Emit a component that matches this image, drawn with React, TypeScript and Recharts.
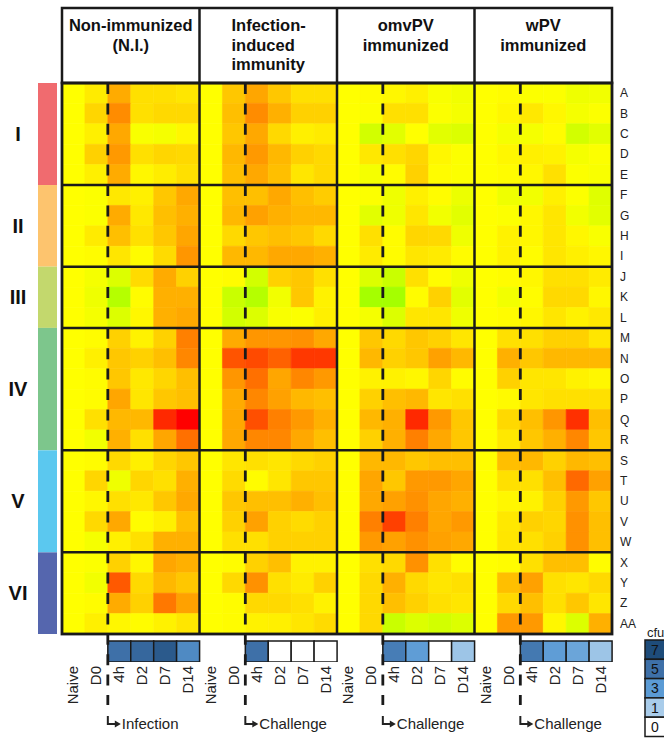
import React from "react";
import { BarChart, Bar, Cell, XAxis, YAxis } from "recharts";

// ---- data ----
const timepoints = ["Naive", "D0", "4h", "D2", "D7", "D14"];
const rowLabels = [
  "A", "B", "C", "D", "E", "F", "G", "H", "I", "J", "K", "L", "M", "N",
  "O", "P", "Q", "R", "S", "T", "U", "V", "W", "X", "Y", "Z", "AA",
];
const clusterNames = ["I", "II", "III", "IV", "V", "VI"];
const clusterSizes = [5, 4, 3, 6, 5, 4];
const clusterColors = ["#F06B6F", "#FDC46E", "#C3D86D", "#7DC68C", "#5BC8EF", "#5566AE"];

const panelTitles = [
  ["Non-immunized", "(N.I.)"],
  ["Infection-", "induced", "immunity"],
  ["omvPV", "immunized"],
  ["wPV", "immunized"],
];
const triggerLabels = ["Infection", "Challenge", "Challenge", "Challenge"];

// expression score per row (A..AA) x timepoint (Naive..D14)
const nonImmunized = [
  [0, 0.8, 3.3, 1.2, 1.2, 1.0],
  [0, 1.6, 4.5, 1.2, 1.5, 1.5],
  [0, 0.6, 3.4, -0.2, -0.3, 0.3],
  [0, 1.8, 4.0, 1.2, 1.6, 1.5],
  [0, 0.6, 3.3, 0.3, 0.7, 1.2],
  [0, -0.1, 0.9, 0.6, 2.2, 3.4],
  [0, -0.1, 3.3, 0.9, 2.5, 3.1],
  [0, 0.8, 2.5, 1.2, 2.2, 3.5],
  [0, 0.1, 1.0, 0.1, 1.4, 4.1],
  [0, -0.3, -1.1, 1.4, 3.3, 1.8],
  [0, -0.5, -2.3, 0.1, 3.1, 3.1],
  [0, -0.3, -1.1, 0.3, 3.1, 3.4],
  [0, 0.1, 1.8, 0.5, 1.8, 5.0],
  [0, 0.6, 2.2, 1.8, 2.5, 4.7],
  [0, 0.1, 2.2, 0.9, 1.6, 2.5],
  [0, 0.1, 3.5, 1.0, 2.2, 2.5],
  [0, 1.2, 2.8, 2.8, 8.4, 10],
  [0, -0.4, 3.1, 1.2, 3.5, 5.6],
  [0, 0.1, 1.5, 0.6, 1.6, 2.2],
  [0, 1.6, -0.5, 1.6, 1.2, 3.1],
  [0, 0.3, 1.2, 0.9, 2.2, 3.4],
  [0, 1.5, 3.4, 0.1, 0.6, 2.5],
  [0, -0.3, 0.6, 1.2, 3.1, 3.1],
  [0, -0.1, 1.8, 0.3, 3.5, 3.1],
  [0, -0.4, 6.5, 1.5, 2.8, 2.2],
  [0, 0.1, 3.3, 1.8, 5.3, 3.7],
  [0, 0.6, 0.3, 0.1, 0.5, 1.0],
];
const infectionInduced = [
  [0, 2.2, 3.5, 2.2, 1.2, 1.2],
  [0, 2.5, 4.5, 3.1, 1.8, 1.8],
  [0, 2.2, 3.4, 1.5, 0.6, 0.8],
  [0, 2.8, 4.0, 2.8, 1.8, 1.5],
  [0, 2.5, 3.4, 2.5, 1.0, 1.5],
  [0, 2.5, 2.5, 3.4, 2.5, 2.0],
  [0, 2.8, 3.7, 3.1, 2.8, 2.8],
  [0, 1.5, 2.2, 2.5, 2.2, 1.5],
  [0, 2.8, 2.8, 3.4, 3.4, 3.1],
  [0, 0.1, -1.4, 1.8, 2.2, 1.2],
  [0, -1.7, -2.3, -0.4, 2.2, 0.5],
  [0, -1.4, -1.1, -0.2, -0.1, 0.6],
  [0, 3.3, 4.1, 4.1, 4.3, 3.4],
  [0, 6.7, 7.1, 6.2, 7.8, 7.8],
  [0, 4.1, 5.6, 3.5, 4.7, 4.0],
  [0, 3.3, 4.7, 3.7, 2.8, 2.5],
  [0, 3.4, 6.9, 5.0, 4.0, 3.1],
  [0, 3.4, 4.7, 4.7, 3.4, 2.5],
  [0, 1.0, 1.2, 1.0, 1.5, 1.8],
  [0, 1.4, 0.1, 1.0, 2.2, 2.2],
  [0, 2.2, 2.5, 2.5, 3.1, 2.5],
  [0, 1.8, 3.7, 1.8, 1.4, 1.8],
  [0, 1.2, 1.2, 1.8, 1.8, 1.8],
  [0, 0.1, 1.8, 2.5, 0.5, 0.5],
  [0, 1.5, 4.3, 1.2, 0.8, 1.8],
  [0, 0.1, 1.5, 1.5, 1.2, 0.5],
  [0, 0.1, 0.5, 0.6, 1.0, 1.4],
];
const omvPV = [
  [0, 0.1, 0.3, 0.6, -0.2, -0.4],
  [0, -0.1, 1.2, 1.2, -0.1, -0.3],
  [0, -1.4, -0.9, 0, -0.9, -1.1],
  [0, 0.9, 1.2, 1.6, 0.3, -0.1],
  [0, -0.3, 0.1, 1.8, 0.1, -0.1],
  [0, -0.1, -0.5, 0.6, 0.1, -0.6],
  [0, -0.9, -0.5, 1.0, -0.4, -0.9],
  [0, 1.2, 0.1, 1.6, 1.5, -0.5],
  [0, 0.8, 0.1, 1.0, 0.8, 0.1],
  [0, -1.1, -1.7, 1.2, 0.1, -0.5],
  [0, -2.8, -2.8, 0.1, 1.8, -0.9],
  [0, -0.3, -1.1, 1.0, 1.0, -0.5],
  [0, 2.2, 1.5, 2.2, 1.8, 1.0],
  [0, 2.8, 1.8, 2.2, 3.7, 2.8],
  [0, 0.5, 0.5, 0.3, 1.6, 0.1],
  [0, 1.8, 2.5, 2.8, 1.0, 1.2],
  [0, 2.8, 3.1, 8.4, 4.0, 2.2],
  [0, 1.8, 3.1, 5.0, 3.4, 2.2],
  [0, 2.8, 2.8, 2.2, 2.5, 2.5],
  [0, 3.5, 2.2, 4.0, 4.0, 3.5],
  [0, 3.4, 3.7, 4.3, 3.5, 3.1],
  [0, 5.0, 7.5, 5.0, 3.5, 4.0],
  [0, 4.0, 3.7, 4.3, 3.7, 3.4],
  [0, 1.2, 1.5, 4.3, 1.2, 0.1],
  [0, 1.5, 3.1, 1.5, 1.0, 1.2],
  [0, 1.5, 2.5, 1.8, 1.2, 1.0],
  [0, 1.5, -1.7, -1.1, -1.4, -1.1],
];
const wPV = [
  [0, 0.1, -0.1, -0.1, -0.5, -0.4],
  [0, 0.3, 0.9, 0.3, -0.3, -0.1],
  [0, -0.3, -0.3, 0.1, -1.4, -0.9],
  [0, 0.3, 0.6, 0.5, -0.3, -0.1],
  [0, 0.1, 0.3, 1.2, -0.1, -0.2],
  [0, -0.5, -0.4, 0.6, -0.1, -1.0],
  [0, -0.1, 0.3, 1.0, -0.4, -0.9],
  [0, 0.5, 0.3, 1.0, 0.3, -0.2],
  [0, 0.5, 0.1, 1.0, 0.6, 0.3],
  [0, 0.1, 0.3, 1.2, 1.2, 0.8],
  [0, -0.4, 0.1, 1.5, 1.5, 0.3],
  [0, 0.1, 0.3, 1.0, 0.5, 0.9],
  [0, 1.2, 1.2, 1.8, 1.8, 1.0],
  [0, 3.1, 2.2, 2.8, 2.8, 2.8],
  [0, 1.8, 1.0, 1.0, 0.5, 0.3],
  [0, 0.2, 1.0, 1.2, 1.2, 1.2],
  [0, 1.5, 2.5, 4.1, 8.1, 2.5],
  [0, 0.9, 2.2, 3.1, 4.7, 2.2],
  [0, 2.5, 2.8, 1.8, 2.8, 2.5],
  [0, 1.2, 1.2, 2.5, 5.9, 3.7],
  [0, 0.3, 0.5, 1.8, 4.0, 2.2],
  [0, 0.9, 1.8, 1.6, 4.3, 2.5],
  [0, 1.0, 1.2, 1.8, 4.3, 2.5],
  [0, 0.1, 1.2, 2.5, 2.5, 0.1],
  [0, 2.5, 3.7, 1.2, 1.0, 1.5],
  [0, 1.5, 2.5, 1.2, 2.2, 1.0],
  [0, 4.0, 4.0, 0.3, -1.1, 3.1],
];

// bacterial load (log cfu) at 4h, D2, D7, D14
const cfuNonImmunized = [5, 5.5, 6.2, 3.8];
const cfuInfection = [5, 0, 0, 0];
const cfuOmvPV = [4.4, 2.9, 0, 1.3];
const cfuWPV = [4.6, 2.9, 2.6, 1.3];
const cfuLegend = [7, 5, 3, 1, 0];

// ---- layout ----
const W = 664;
const H = 738;
const LEFT = 62;
const TOP = 83;
const PW = 550;
const NCOL = 24;
const NROW = rowLabels.length;
const ROWH = 551 / NROW;
const COLW = PW / NCOL;
const GAP_ROWS = 7 / ROWH;
const CFU_ROWS = 21 / ROWH;
const Y_MAX = NROW + GAP_ROWS + CFU_ROWS;
const PLOT_BOTTOM = TOP + Y_MAX * ROWH;
const FONT = "'Liberation Sans', Arial, Helvetica, sans-serif";
const LINE = "#1a1a1a";

const panels = [nonImmunized, infectionInduced, omvPV, wPV];
const cfuPanels = [cfuNonImmunized, cfuInfection, cfuOmvPV, cfuWPV];

function heat(v: number) {
  if (v >= 0) {
    const g = Math.max(0, Math.round(255 - v * 25.5));
    return `rgb(255,${g},0)`;
  }
  const r = Math.max(150, Math.round(255 + v * 32));
  return `rgb(${r},255,0)`;
}

const cfuStops: [number, number[]][] = [
  [1, [169, 204, 234]],
  [3, [91, 155, 213]],
  [5, [62, 112, 168]],
  [7, [30, 76, 122]],
];
function cfuColor(v: number) {
  if (v <= 0) return "#ffffff";
  if (v <= cfuStops[0][0]) return `rgb(${cfuStops[0][1].join(",")})`;
  for (let i = 0; i < cfuStops.length - 1; i++) {
    const [a, ca] = cfuStops[i];
    const [b, cb] = cfuStops[i + 1];
    if (v <= b) {
      const t = (v - a) / (b - a);
      return `rgb(${ca.map((c, k) => Math.round(c + (cb[k] - c) * t)).join(",")})`;
    }
  }
  return `rgb(${cfuStops[cfuStops.length - 1][1].join(",")})`;
}

const chartData = panels.flatMap((_, pi) =>
  timepoints.map((t, ti) => {
    const d: Record<string, any> = { col: `${pi}-${t}`, pi, ti, gap: GAP_ROWS, cfu: CFU_ROWS };
    rowLabels.forEach((_, ri) => {
      d[`r${ri}`] = 1;
    });
    return d;
  })
);

const colX = (c: number) => LEFT + c * COLW;
const rowY = (r: number) => TOP + r * ROWH;

function Overlay() {
  const groupBreaks: number[] = [];
  let acc = 0;
  clusterSizes.forEach((s) => {
    groupBreaks.push(acc);
    acc += s;
  });
  const legTop = 640;
  const legH = 19.3;
  return (
    <svg
      width={W}
      height={H}
      style={{ position: "absolute", left: 0, top: 0, pointerEvents: "none" }}
      fontFamily={FONT}
    >
      {/* header */}
      <rect x={LEFT} y={8} width={PW} height={TOP - 8} fill="#fff" stroke={LINE} strokeWidth={2.5} />
      {panelTitles.map((lines, pi) => {
        const cx = colX(pi * 6 + 3);
        const left = pi === 1;
        return (
          <text
            key={pi}
            fontSize={16.5}
            fontWeight="bold"
            fill="#111"
            textAnchor={left ? "start" : "middle"}
          >
            {lines.map((l, li) => (
              <tspan key={li} x={left ? colX(pi * 6) + 32 : cx} y={31 + li * 19.5}>
                {l}
              </tspan>
            ))}
          </text>
        );
      })}

      {/* heatmap frame */}
      <rect x={LEFT} y={TOP} width={PW} height={NROW * ROWH} fill="none" stroke={LINE} strokeWidth={2.8} />
      {[6, 12, 18].map((c) => (
        <line key={c} x1={colX(c)} x2={colX(c)} y1={8} y2={rowY(NROW)} stroke={LINE} strokeWidth={2.5} />
      ))}
      {groupBreaks.slice(1).map((r) => (
        <line key={r} x1={LEFT} x2={LEFT + PW} y1={rowY(r)} y2={rowY(r)} stroke={LINE} strokeWidth={2.5} />
      ))}
      {[2, 8, 14, 20].map((c) => (
        <line
          key={c}
          x1={colX(c)}
          x2={colX(c)}
          y1={TOP}
          y2={705}
          stroke={LINE}
          strokeWidth={2.8}
          strokeDasharray="11 9.4"
        />
      ))}

      {/* cluster strip */}
      {clusterSizes.map((s, i) => (
        <g key={i}>
          <rect x={38} y={rowY(groupBreaks[i])} width={19} height={s * ROWH} fill={clusterColors[i]} />
          <text
            x={18}
            y={rowY(groupBreaks[i] + s / 2)}
            dominantBaseline="central"
            textAnchor="middle"
            fontSize={20}
            fontWeight="bold"
            fill="#111"
          >
            {clusterNames[i]}
          </text>
        </g>
      ))}

      {/* row letters */}
      {rowLabels.map((l, ri) => (
        <text key={l} x={620} y={rowY(ri + 0.5)} dominantBaseline="central" fontSize={12} fill="#222">
          {l}
        </text>
      ))}

      {/* timepoint labels */}
      {panels.map((_, pi) =>
        timepoints.map((t, ti) => {
          const x = colX(pi * 6 + ti + 0.5) + 5;
          return (
            <text
              key={`${pi}-${t}`}
              x={x}
              y={666}
              transform={`rotate(-90 ${x} 666)`}
              textAnchor="end"
              fontSize={15}
              fill="#222"
            >
              {t}
            </text>
          );
        })
      )}

      {/* trigger arrows */}
      {triggerLabels.map((l, pi) => {
        const x = colX(pi * 6 + 2);
        return (
          <g key={pi}>
            <path d={`M${x} 716 V724 H${x + 8}`} stroke="#222" strokeWidth={2} fill="none" />
            <path d={`M${x + 7} 720.5 L${x + 13} 724 L${x + 7} 727.5 Z`} fill="#222" />
            <text x={x + 14} y={729} fontSize={15} fill="#222">
              {l}
            </text>
          </g>
        );
      })}

      {/* cfu legend */}
      <text x={647} y={637} fontSize={13} fill="#222">
        cfu
      </text>
      {cfuLegend.map((v, i) => (
        <g key={v}>
          <rect
            x={645}
            y={legTop + i * legH}
            width={30}
            height={legH}
            fill={cfuColor(v)}
            stroke={LINE}
            strokeWidth={1.5}
          />
          <text
            x={651}
            y={legTop + i * legH + legH / 2}
            dominantBaseline="central"
            fontSize={14}
            fill="#111"
          >
            {v}
          </text>
        </g>
      ))}
    </svg>
  );
}

export default function App() {
  return (
    <div style={{ position: "absolute", left: 0, top: 0, width: W, height: H, background: "#fff" }}>
      <BarChart
        width={W}
        height={H}
        data={chartData}
        margin={{ top: TOP, left: LEFT, right: W - LEFT - PW, bottom: H - PLOT_BOTTOM }}
        barCategoryGap={0}
        barGap={0}
      >
        <XAxis dataKey="col" type="category" hide />
        <YAxis type="number" domain={[0, Y_MAX]} reversed hide allowDataOverflow />
        {rowLabels.map((_, ri) => (
          <Bar key={ri} dataKey={`r${ri}`} stackId="s" isAnimationActive={false}>
            {chartData.map((d, i) => {
              const c = heat(panels[d.pi][ri][d.ti]);
              return <Cell key={i} fill={c} stroke={c} strokeWidth={0.6} />;
            })}
          </Bar>
        ))}
        <Bar dataKey="gap" stackId="s" fill="none" isAnimationActive={false} />
        <Bar dataKey="cfu" stackId="s" isAnimationActive={false}>
          {chartData.map((d, i) => {
            const has = d.ti >= 2;
            return (
              <Cell
                key={i}
                fill={has ? cfuColor(cfuPanels[d.pi][d.ti - 2]) : "none"}
                stroke={has ? LINE : "none"}
                strokeWidth={1.5}
              />
            );
          })}
        </Bar>
      </BarChart>
      <Overlay />
    </div>
  );
}
